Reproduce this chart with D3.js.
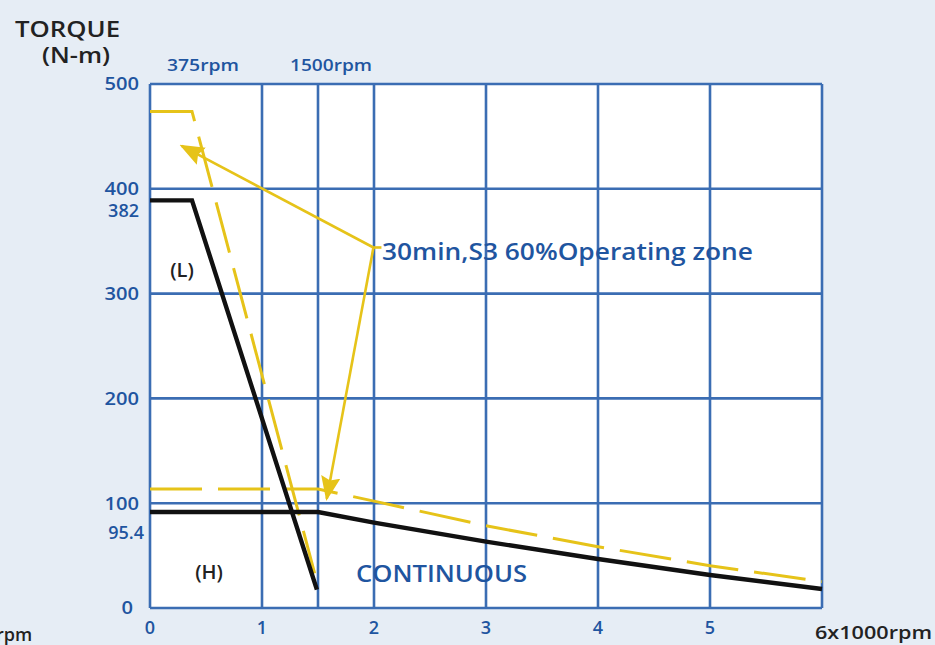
<!DOCTYPE html>
<html><head><meta charset="utf-8">
<script src="https://cdn.jsdelivr.net/npm/d3@7"></script>
<style>
html,body{margin:0;padding:0;background:#e6edf5;}
svg{display:block;font-family:"Open Sans",sans-serif;}
</style></head>
<body><svg id="c" width="935" height="645"></svg>
<script>
// speed in 1000 rpm, torque in N-m
const yTicks = [0, 100, 200, 300, 400, 500];
const yTickExtra = {400: "382", 100: "95.4"};
const xTicks = [0, 1, 2, 3, 4, 5];
const xGrid = [0, 1, 1.5, 2, 3, 4, 5, 6];
const speedMarks = [{x: 0.375, label: "375rpm"}, {x: 1.5, label: "1500rpm"}];

const contL = [[0, 389], [0.375, 389], [1.49, 17.5]];
const contH = [[0, 91.6], [1.5, 91.6], [2, 81.4], [3, 63.3], [4, 46.8], [5, 31.5], [6, 18.1]];
const s3L = [[0, 473.8], [0.375, 473.8], [1.47, 33]];
const s3H = [[0, 113.5], [1.5, 113.5], [2, 102], [3, 78.5], [4, 58.5], [5, 40.4], [6, 25.1]];

const zoneAnchor = [1.995, 344];
const zoneArrowTips = [[0.283, 441], [1.578, 104.3]];
const zoneLabel = "30min,S3 60%Operating zone";

const svg = d3.select("#c");
const x = d3.scaleLinear().domain([0, 6]).range([150, 822]);
const y = d3.scaleLinear().domain([0, 500]).range([608, 84]);
const blue = "#3b6db3", txtBlue = "#1f55a0", yellow = "#e6c319";

// plot background
svg.append("rect").attr("x", x(0)).attr("y", y(500)).attr("width", x(6) - x(0)).attr("height", y(0) - y(500)).attr("fill", "#fff");

// grid
svg.append("g").selectAll("line").data(yTicks).join("line")
  .attr("x1", x(0)).attr("x2", x(6)).attr("y1", d => y(d)).attr("y2", d => y(d))
  .attr("stroke", blue).attr("stroke-width", 2.6);
svg.append("g").selectAll("line").data(xGrid).join("line")
  .attr("y1", y(0)).attr("y2", y(500)).attr("x1", d => x(d)).attr("x2", d => x(d))
  .attr("stroke", blue).attr("stroke-width", 2.6);

// y tick labels
const yl = svg.append("g").attr("font-size", 18).attr("font-weight", 600).attr("fill", txtBlue).attr("text-anchor", "end");
yl.selectAll("text.main").data(yTicks).join("text").attr("class", "main")
  .attr("x", d => d === 0 ? 133 : 139).attr("y", d => y(d)).attr("dy", "0.35em")
  .attr("textLength", d => String(d).length * 11.5).attr("lengthAdjust", "spacingAndGlyphs").text(d => d);
yl.selectAll("text.extra").data(Object.keys(yTickExtra).map(Number)).join("text").attr("class", "extra")
  .attr("x", d => d === 100 ? 144 : 139).attr("y", d => y(d) + (d === 100 ? 29 : 22)).attr("dy", "0.35em").text(d => yTickExtra[d]);

// x tick labels
svg.append("g").attr("font-size", 18).attr("font-weight", 600).attr("fill", txtBlue).attr("text-anchor", "middle")
  .selectAll("text").data(xTicks).join("text")
  .attr("x", d => x(d)).attr("y", 628).attr("dy", "0.35em").text(d => d);
svg.append("text").attr("x", 815).attr("y", 633).attr("dy", "0.35em").attr("font-size", 18).attr("font-weight", 600)
  .attr("fill", "#222").attr("textLength", 117).attr("lengthAdjust", "spacingAndGlyphs").text("6x1000rpm");
svg.append("text").attr("x", -4).attr("y", 635).attr("dy", "0.35em").attr("font-size", 18).attr("font-weight", 600)
  .attr("fill", "#222").text("rpm");

// speed marks above
svg.append("g").attr("font-size", 16).attr("font-weight", 600).attr("fill", txtBlue)
  .selectAll("text").data(speedMarks).join("text")
  .attr("x", d => x(d.x) - (d.x < 1 ? 25 : 28)).attr("y", 65).attr("dy", "0.35em")
  .attr("textLength", d => d.x < 1 ? 72 : 82).attr("lengthAdjust", "spacingAndGlyphs")
  .text(d => d.label);

// axis title
svg.append("text").attr("x", 15).attr("y", 29).attr("dy", "0.35em").attr("font-size", 22).attr("font-weight", 600).attr("fill", "#222")
  .attr("textLength", 105).attr("lengthAdjust", "spacingAndGlyphs").text("TORQUE");
svg.append("text").attr("x", 42).attr("y", 56).attr("dy", "0.35em").attr("font-size", 21).attr("font-weight", 600).attr("fill", "#222")
  .attr("textLength", 68).attr("lengthAdjust", "spacingAndGlyphs").text("(N-m)");

const line = d3.line().x(d => x(d[0])).y(d => y(d[1]));

// S3 dashed curves
[s3L, s3H].forEach(s => svg.append("path").attr("d", line(s)).attr("fill", "none")
  .attr("stroke", yellow).attr("stroke-width", 3).attr("stroke-dasharray", "52,16"));

// continuous curves
[contL, contH].forEach(s => svg.append("path").attr("d", line(s)).attr("fill", "none")
  .attr("stroke", "#111").attr("stroke-width", 4.4).attr("stroke-linejoin", "miter"));

// annotation arrows
const defs = svg.append("defs");
defs.append("marker").attr("id", "ah").attr("viewBox", "0 0 10 10").attr("refX", 9).attr("refY", 5)
  .attr("markerWidth", 9.5).attr("markerHeight", 7.5).attr("markerUnits", "strokeWidth").attr("orient", "auto")
  .attr("preserveAspectRatio", "none")
  .append("path").attr("d", "M0,0 L10,5 L0,10 L1.5,5 Z").attr("fill", yellow);
svg.append("g").selectAll("line").data(zoneArrowTips).join("line")
  .attr("x1", x(zoneAnchor[0])).attr("y1", y(zoneAnchor[1]))
  .attr("x2", d => x(d[0])).attr("y2", d => y(d[1]))
  .attr("stroke", yellow).attr("stroke-width", 2.6).attr("marker-end", "url(#ah)");
svg.append("line").attr("x1", x(zoneAnchor[0])).attr("y1", y(zoneAnchor[1]))
  .attr("x2", x(zoneAnchor[0]) + 8).attr("y2", y(zoneAnchor[1])).attr("stroke", yellow).attr("stroke-width", 2.6);

svg.append("text").attr("x", 382).attr("y", 252).attr("dy", "0.35em").attr("font-size", 23).attr("font-weight", 600).attr("fill", txtBlue)
  .attr("textLength", 371).attr("lengthAdjust", "spacingAndGlyphs").text(zoneLabel);

svg.append("text").attr("x", 356).attr("y", 574).attr("dy", "0.35em").attr("font-size", 24).attr("font-weight", 600).attr("fill", txtBlue)
  .attr("textLength", 171).attr("lengthAdjust", "spacingAndGlyphs").text("CONTINUOUS");

svg.append("text").attr("x", 182).attr("y", 270).attr("dy", "0.35em").attr("font-size", 20).attr("font-weight", 600).attr("fill", "#222")
  .attr("text-anchor", "middle").text("(L)");
svg.append("text").attr("x", 209).attr("y", 572).attr("dy", "0.35em").attr("font-size", 20).attr("font-weight", 600).attr("fill", "#222")
  .attr("text-anchor", "middle").text("(H)");
</script></body></html>
